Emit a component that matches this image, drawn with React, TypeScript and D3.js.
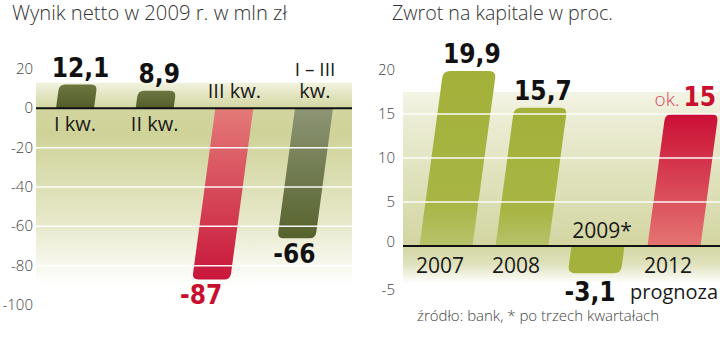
import React from "react";
import * as d3 from "d3";

// ---------- data ----------
const leftCats = ["I kw.", "II kw.", "III kw.", "I – III kw."];
const leftValues = [12.1, 8.9, -87, -66];
const leftValueLabels = ["12,1", "8,9", "-87", "-66"];
const leftTicks = [20, 0, -20, -40, -60, -80, -100];
const leftGrid = [-20, -40, -60, -80];

const rightCats = ["2007", "2008", "2009*", "2012"];
const rightValues = [19.9, 15.7, -3.1, 15];
const rightValueLabels = ["19,9", "15,7", "-3,1", "15"];
const rightTicks = [20, 15, 10, 5, 0, -5];
const rightGrid = [5, 10, 15];

const leftTitle = "Wynik netto w 2009 r. w mln zł";
const rightTitle = "Zwrot na kapitale w proc.";
const footer = "źródło: bank, * po trzech kwartałach";

// ---------- style ----------
const SHEAR = 0.135;
const LIGHT = "'Open Sans', 'Noto Sans', 'DejaVu Sans', sans-serif";
const BOLD = "'Liberation Sans Narrow', 'DejaVu Sans Condensed', 'Roboto Condensed', sans-serif";
const RED = "#c8102e";

function barPath(x0: number, x1: number, y0: number, y1: number, r: number) {
  const up = y1 < y0;
  const rr = Math.min(r, Math.abs(y1 - y0) / 2);
  if (up) {
    return `M${x0},${y0}L${x0},${y1 + rr}Q${x0},${y1} ${x0 + rr},${y1}L${x1 - rr},${y1}Q${x1},${y1} ${x1},${y1 + rr}L${x1},${y0}Z`;
  }
  return `M${x0},${y0}L${x0},${y1 - rr}Q${x0},${y1} ${x0 + rr},${y1}L${x1 - rr},${y1}Q${x1},${y1} ${x1},${y1 - rr}L${x1},${y0}Z`;
}

const shear = (y0: number) => `matrix(1,0,${-SHEAR},1,${SHEAR * y0},0)`;

export default function App() {
  const yL = d3.scaleLinear().domain([-100, 20]).range([305, 69]);
  const xL = d3.scalePoint<string>().domain(leftCats).range([75, 314]);
  const y0L = yL(0);
  const bwL = 38;

  const yR = d3.scaleLinear().domain([-5, 20]).range([290, 70]);
  const xR = d3.scalePoint<string>().domain(rightCats).range([446, 674]);
  const y0R = yR(0);
  const bwR = 53;

  const sx = (xc: number, y0: number, y: number) => xc + SHEAR * (y0 - y);

  const leftFills = ["url(#gOlive)", "url(#gOlive)", "url(#gRedL)", "url(#gGrey)"];
  const rightFills = ["url(#gLime)", "url(#gLime)", "#a4b13c", "url(#gRedR)"];

  return (
    <svg width={720} height={356} style={{ position: "absolute", left: 0, top: 0, background: "#fff" }}>
      <defs>
        <linearGradient id="bgL" x1="0" y1="0" x2="0" y2="1">
          <stop offset="0" stopColor="#f1f2de" />
          <stop offset="0.13" stopColor="#d2d59f" />
          <stop offset="0.25" stopColor="#cfd398" />
          <stop offset="0.7" stopColor="#e8e9cc" />
          <stop offset="1" stopColor="#ffffff" />
        </linearGradient>
        <linearGradient id="bgR" x1="0" y1="0" x2="0" y2="1">
          <stop offset="0" stopColor="#f4f4e6" />
          <stop offset="0.15" stopColor="#ebecd3" />
          <stop offset="0.8" stopColor="#d3d6a2" />
          <stop offset="0.9" stopColor="#dfe1bb" />
          <stop offset="1" stopColor="#ffffff" />
        </linearGradient>
        <linearGradient id="gOlive" x1="0" y1="0" x2="0" y2="1">
          <stop offset="0" stopColor="#6c7641" />
          <stop offset="1" stopColor="#525d2a" />
        </linearGradient>
        <linearGradient id="gGrey" x1="0" y1="0" x2="0" y2="1">
          <stop offset="0" stopColor="#8d9575" />
          <stop offset="1" stopColor="#56622c" />
        </linearGradient>
        <linearGradient id="gRedL" x1="0" y1="0" x2="0" y2="1">
          <stop offset="0" stopColor="#e47a78" />
          <stop offset="1" stopColor="#c8163a" />
        </linearGradient>
        <linearGradient id="gRedR" x1="0" y1="0" x2="0" y2="1">
          <stop offset="0" stopColor="#cb0f35" />
          <stop offset="1" stopColor="#e47472" />
        </linearGradient>
        <linearGradient id="gLime" x1="0" y1="0" x2="0" y2="1">
          <stop offset="0" stopColor="#a3b13a" />
          <stop offset="0.75" stopColor="#a8b544" />
          <stop offset="1" stopColor="#b8c36b" />
        </linearGradient>
      </defs>

      {/* ---------------- LEFT CHART ---------------- */}
      <text x={12} y={20} fontFamily={LIGHT} fontWeight={300} fontSize={20} fill="#333" textLength={275} lengthAdjust="spacingAndGlyphs">
        {leftTitle}
      </text>
      <rect x={36} y={yL(13)} width={316} height={yL(-90) - yL(13)} fill="url(#bgL)" />
      {leftTicks.map((t) => (
        <text key={t} x={33} y={yL(t) + 5} textAnchor="end" fontFamily={LIGHT} fontWeight={300} fontSize={15} fill="#444">
          {t}
        </text>
      ))}
      {leftValues.map((v, i) => {
        const xc = xL(leftCats[i])!;
        return (
          <path
            key={i}
            d={barPath(xc - bwL / 2, xc + bwL / 2, y0L, yL(v), 6)}
            transform={shear(y0L)}
            fill={leftFills[i]}
          />
        );
      })}
      {leftGrid.map((t) => (
        <line key={t} x1={36} x2={352} y1={yL(t)} y2={yL(t)} stroke="#fff" strokeWidth={1.5} opacity={0.95} />
      ))}
      <line x1={36} x2={352} y1={y0L} y2={y0L} stroke="#111" strokeWidth={2} />

      {leftValues.map((v, i) => {
        const xc = xL(leftCats[i])!;
        const ly = v > 0 ? yL(v) - 8 : yL(v) + 25;
        const lx = sx(xc, y0L, ly - 9) + (i === 2 ? -8 : 0);
        return (
          <text key={i} x={lx} y={ly} textAnchor="middle" fontFamily={BOLD} fontWeight={700} fontSize={26}
            fill={i === 2 ? RED : "#111"}>
            {leftValueLabels[i]}
          </text>
        );
      })}
      {leftCats.map((c, i) => {
        const xc = xL(c)!;
        const v = leftValues[i];
        if (v > 0) {
          return (
            <text key={c} x={xc} y={y0L + 23} textAnchor="middle" fontFamily={LIGHT} fontSize={20} fill="#1a1a1a">
              {c}
            </text>
          );
        }
        if (i === 2) {
          return (
            <text key={c} x={xc} y={y0L - 10} textAnchor="middle" fontFamily={LIGHT} fontSize={20} fill="#1a1a1a">
              {c}
            </text>
          );
        }
        const parts = c.split(" kw.");
        return (
          <g key={c}>
            <text x={xc + 1} y={y0L - 32} textAnchor="middle" fontFamily={LIGHT} fontSize={19} fill="#1a1a1a">
              {parts[0]}
            </text>
            <text x={xc + 1} y={y0L - 10} textAnchor="middle" fontFamily={LIGHT} fontSize={20} fill="#1a1a1a">
              kw.
            </text>
          </g>
        );
      })}

      {/* ---------------- RIGHT CHART ---------------- */}
      <text x={392} y={20} fontFamily={LIGHT} fontWeight={300} fontSize={20} fill="#333" textLength={221} lengthAdjust="spacingAndGlyphs">
        {rightTitle}
      </text>
      <rect x={403} y={yR(17.5)} width={317} height={yR(-4.2) - yR(17.5)} fill="url(#bgR)" />
      {rightTicks.map((t) => (
        <text key={t} x={395} y={yR(t) + 5 - (t === 0 ? 4 : 0)} textAnchor="end" fontFamily={LIGHT} fontWeight={300} fontSize={15} fill="#444">
          {t}
        </text>
      ))}
      {rightValues.map((v, i) => {
        const xc = xR(rightCats[i])!;
        return (
          <path
            key={i}
            d={barPath(xc - bwR / 2, xc + bwR / 2, y0R, yR(v), 7)}
            transform={shear(y0R)}
            fill={rightFills[i]}
          />
        );
      })}
      {rightGrid.map((t) => (
        <line key={t} x1={403} x2={720} y1={yR(t)} y2={yR(t)} stroke="#fff" strokeWidth={1.5} opacity={0.95} />
      ))}
      <line x1={403} x2={720} y1={y0R} y2={y0R} stroke="#111" strokeWidth={2} />

      {rightValues.map((v, i) => {
        const xc = xR(rightCats[i])!;
        if (i === 3) {
          const ly = yR(v) - 8;
          return (
            <text key={i} x={716} y={ly} textAnchor="end" fill={RED}>
              <tspan fontFamily={LIGHT} fontWeight={300} fontSize={19} fill="#d8445a">ok.</tspan>
              <tspan dx={4} fontFamily={BOLD} fontWeight={700} fontSize={26}>{rightValueLabels[i]}</tspan>
            </text>
          );
        }
        const ly = v > 0 ? yR(v) - 8 : yR(v) + 28;
        const lx = v > 0 ? sx(xc, y0R, ly - 9) : xc - 8;
        return (
          <text key={i} x={lx} y={ly} textAnchor="middle" fontFamily={BOLD} fontWeight={700} fontSize={26} fill="#111">
            {rightValueLabels[i]}
          </text>
        );
      })}
      {rightCats.map((c, i) => {
        const xc = xR(c)!;
        const v = rightValues[i];
        if (v > 0) {
          return (
            <text key={c} x={xc - 6} y={y0R + 27} textAnchor="middle" fontFamily={LIGHT} fontSize={21} fill="#1a1a1a">
              {c}
            </text>
          );
        }
        return (
          <text key={c} x={xc + 4} y={y0R - 8} textAnchor="middle" fontFamily={LIGHT} fontSize={21} fill="#1a1a1a">
            {c}
          </text>
        );
      })}
      <text x={630} y={299} fontFamily={LIGHT} fontSize={20} fill="#1a1a1a">prognoza</text>

      <text x={417} y={321} fontFamily={LIGHT} fontWeight={300} fontSize={15} fill="#444">{footer}</text>
    </svg>
  );
}
